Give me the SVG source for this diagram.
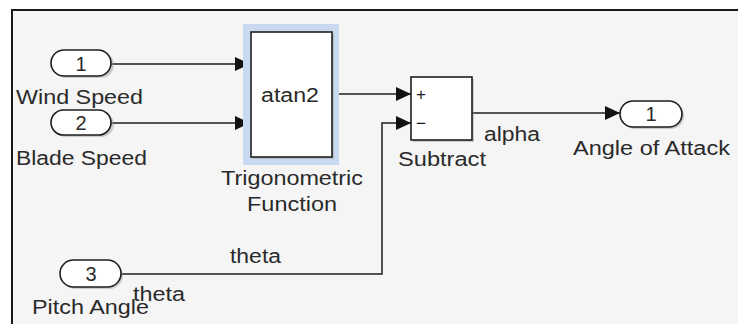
<svg xmlns="http://www.w3.org/2000/svg" width="738" height="324" viewBox="0 0 738 324">
<defs>
<style>
.bg{fill:#f5f5f5;stroke:none}
.frame{fill:none;stroke:#1a1a1a;stroke-width:2}
.blk{fill:#ffffff;stroke:#1e1e1e;stroke-width:1.6}
.sh{fill:#9a9a9a;opacity:0.45}
.port{fill:#ffffff;stroke:#1e1e1e;stroke-width:1.6}
.wire{fill:none;stroke:#1e1e1e;stroke-width:1.5}
.t{font-family:"Liberation Sans",Arial,sans-serif;font-size:20px;fill:#2a2a2a}
.n{font-family:"Liberation Sans",Arial,sans-serif;font-size:20px;fill:#2a2a2a;text-anchor:middle}
.s{font-family:"Liberation Sans",Arial,sans-serif;font-size:17px;fill:#1a1a1a;text-anchor:middle}
</style>
<marker id="ah" markerWidth="15" markerHeight="14" refX="15" refY="7" orient="auto" markerUnits="userSpaceOnUse">
<path d="M0,0 L15,7 L0,14 Z" fill="#111111"/>
</marker>
</defs>
<rect x="0" y="0" width="738" height="324" fill="#ffffff"/>
<rect class="bg" x="12" y="10" width="730" height="320"/>
<path class="frame" d="M12,330 L12,10 L740,10"/>

<g id="connectors">
<path class="wire" d="M111,64 L250,64" marker-end="url(#ah)"/>
<path class="wire" d="M111,123 L250,123" marker-end="url(#ah)"/>
<path class="wire" d="M332,94 L411,94" marker-end="url(#ah)"/>
<path class="wire" d="M472,113 L620,113" marker-end="url(#ah)"/>
<path class="wire" d="M121,274 L382,274 L382,123 L411,123" marker-end="url(#ah)"/>
</g>

<g id="in1">
<rect class="sh" x="53" y="52" width="61" height="26" rx="13"/>
<rect class="port" x="51" y="50" width="60" height="26" rx="13"/>
<text class="n" x="81" y="70.5">1</text>
<text class="t" x="16" y="104" textLength="127" lengthAdjust="spacingAndGlyphs">Wind Speed</text>
</g>

<g id="in2">
<rect class="sh" x="53" y="112" width="61" height="25" rx="12.5"/>
<rect class="port" x="51" y="110" width="60" height="25" rx="12.5"/>
<text class="n" x="81" y="130">2</text>
<text class="t" x="16" y="165" textLength="131" lengthAdjust="spacingAndGlyphs">Blade Speed</text>
</g>

<g id="in3">
<rect class="sh" x="62" y="262" width="61" height="27" rx="13.5"/>
<rect class="port" x="60" y="260" width="61" height="27" rx="13.5"/>
<text class="n" x="91" y="281">3</text>
<text class="t" x="32" y="314" textLength="117" lengthAdjust="spacingAndGlyphs">Pitch Angle</text>
</g>

<g id="trig">
<rect x="243" y="24" width="96" height="141" fill="#c9d9ef"/>
<rect class="sh" x="253" y="34" width="81" height="125"/>
<rect class="blk" x="251" y="32" width="81" height="125" fill="#fdfdfd"/>
<text class="t" x="261" y="102" textLength="58" lengthAdjust="spacingAndGlyphs">atan2</text>
<text class="t" x="221" y="185" textLength="142" lengthAdjust="spacingAndGlyphs">Trigonometric</text>
<text class="t" x="247" y="211" textLength="90" lengthAdjust="spacingAndGlyphs">Function</text>
</g>

<g id="subtract">
<rect class="sh" x="413" y="79" width="61" height="63"/>
<rect class="blk" x="411" y="77" width="61" height="63"/>
<text class="s" x="421" y="100">+</text>
<text class="s" x="421" y="129">−</text>
<text class="t" x="398" y="166" textLength="88" lengthAdjust="spacingAndGlyphs">Subtract</text>
</g>

<g id="out1">
<rect class="sh" x="622" y="103" width="62" height="26" rx="13"/>
<rect class="port" x="620" y="101" width="62" height="26" rx="13"/>
<text class="n" x="651" y="120.5">1</text>
<text class="t" x="573" y="155" textLength="157" lengthAdjust="spacingAndGlyphs">Angle of Attack</text>
</g>

<g id="labels">
<text class="t" x="484" y="141" textLength="56" lengthAdjust="spacingAndGlyphs">alpha</text>
<text class="t" x="230" y="263" textLength="51" lengthAdjust="spacingAndGlyphs">theta</text>
<text class="t" x="133" y="301" textLength="52" lengthAdjust="spacingAndGlyphs">theta</text>
</g>
</svg>
